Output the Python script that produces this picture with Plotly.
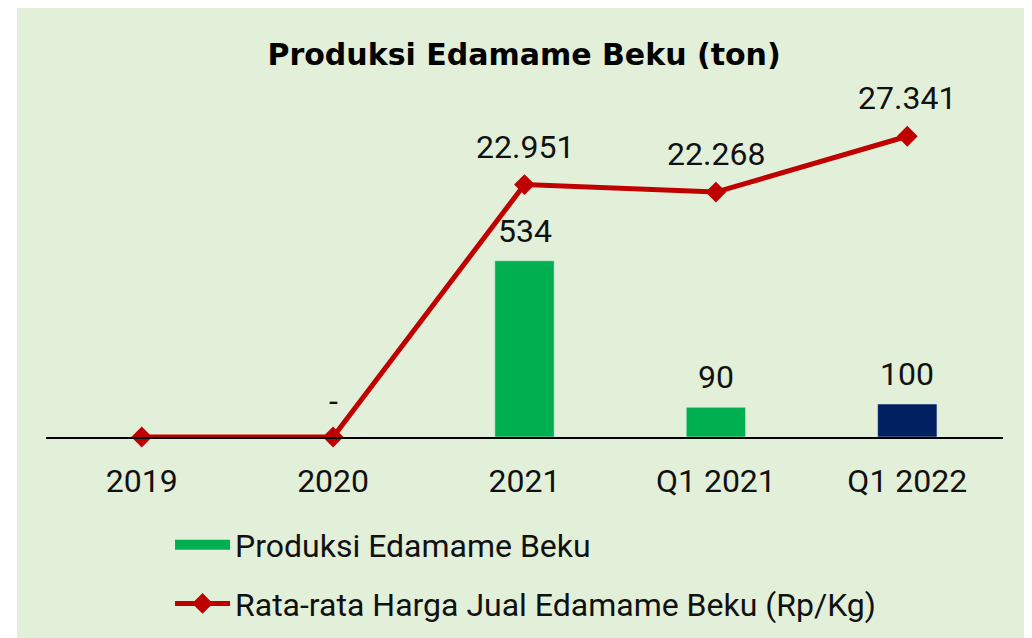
import plotly.graph_objects as go

periode = ["2019", "2020", "2021", "Q1 2021", "Q1 2022"]
produksi = [None, 0, 534, 90, 100]
produksi_label = ["", "-", "534", "90", "100"]
harga = [0, 0, 22951, 22268, 27341]
harga_label = ["", "", "22.951", "22.268", "27.341"]

bg = "#e2efd9"
hijau = "#00b050"
font_utama = "Roboto"

fig = go.Figure()

fig.add_trace(go.Bar(
    x=periode, y=produksi, name="Produksi Edamame Beku",
    marker_color=[hijau, hijau, hijau, hijau, "#002060"],
    width=0.31, showlegend=False,
))
# kotak legenda yang lebar seperti di Excel
fig.add_trace(go.Scatter(
    x=[None], y=[None], name="Produksi Edamame Beku", mode="lines",
    line=dict(color=hijau, width=18), legendgroup="a",
))

fig.add_trace(go.Scatter(
    x=periode, y=harga, name="Rata-rata Harga Jual Edamame Beku (Rp/Kg)",
    mode="lines+markers", yaxis="y2", legendgroup="b",
    line=dict(color="#c00000", width=5),
    marker=dict(symbol="diamond", size=16, color="#c00000"),
    cliponaxis=False,
))

# label data (pakai anotasi supaya jaraknya bisa diatur)
# x pakai indeks kategori, kalau string "2021" dibaca sebagai angka
for i, (v, t) in enumerate(zip(produksi, produksi_label)):
    if t:
        fig.add_annotation(x=i, y=v or 0, yref="y", text=t, showarrow=False,
                           yanchor="middle", yshift=30 if v else 36)
for i, (v, t) in enumerate(zip(harga, harga_label)):
    if t:
        fig.add_annotation(x=i, y=v, yref="y2", text=t, showarrow=False,
                           yanchor="middle", yshift=38)

fig.update_layout(
    width=1024, height=630,
    paper_bgcolor="white", plot_bgcolor="rgba(0,0,0,0)",
    margin=dict(l=38, r=29, t=99, b=201, autoexpand=False),
    font=dict(family=font_utama, size=32, color="#111111"),
    title=dict(text="<b>Produksi Edamame Beku (ton)</b>", x=0.504, xanchor="center",
               y=1 - 46 / 630, yanchor="middle", yref="container",
               font=dict(family="DejaVu Sans", size=30, color="black")),
    xaxis=dict(showline=True, linecolor="black", linewidth=1.5, showgrid=False,
               ticks="outside", tickcolor="rgba(0,0,0,0)", ticklen=15,
               tickfont=dict(size=32, family=font_utama), range=[-0.5, 4.5]),
    yaxis=dict(range=[0, 1000], visible=False, showgrid=False, zeroline=False),
    yaxis2=dict(range=[0, 30000], overlaying="y", visible=False, showgrid=False,
                zeroline=False),
    legend=dict(x=0.1296, y=-0.244, xanchor="left", yanchor="top",
                orientation="v", tracegroupgap=14, itemwidth=55,
                bgcolor="rgba(0,0,0,0)",
                font=dict(size=32, family=font_utama)),
    shapes=[dict(type="rect", xref="paper", yref="paper", layer="below",
                 x0=-29 / 957, x1=1.1, y0=-1, y1=2, fillcolor=bg, line_width=0)],
)

fig.write_html("out.html")
